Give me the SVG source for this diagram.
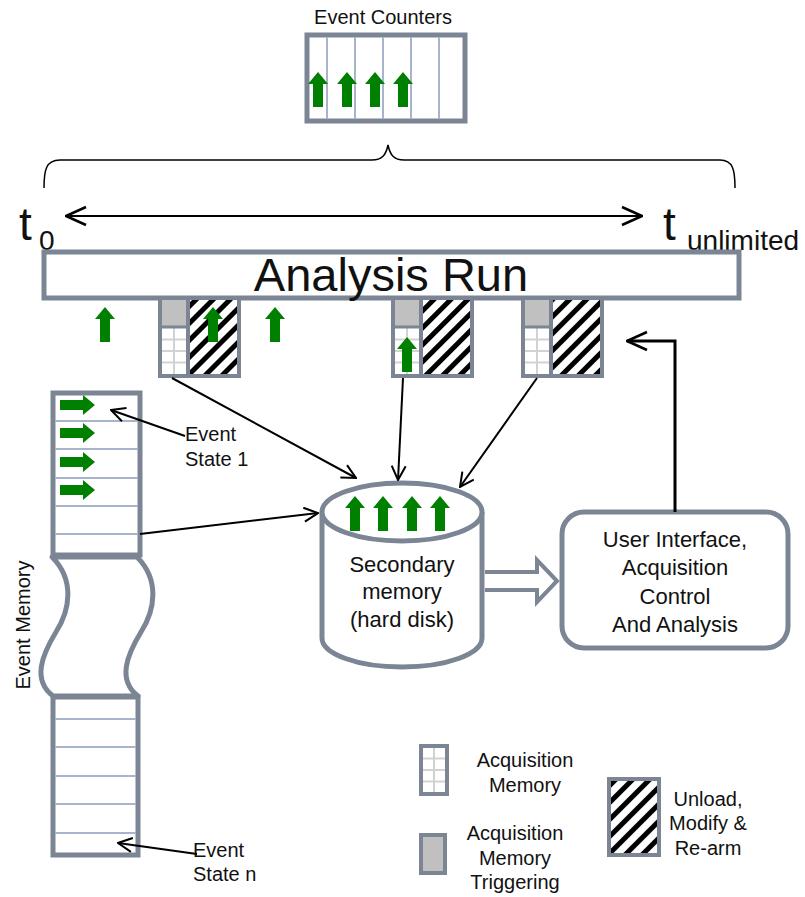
<svg xmlns="http://www.w3.org/2000/svg" xmlns:xlink="http://www.w3.org/1999/xlink" width="805" height="897" viewBox="0 0 805 897">
<defs>
<style>
.box{fill:#fff;stroke:#7b8594;stroke-width:5}
.gs{stroke:#7b8594;stroke-width:4}
.div{stroke:#a6b4cc;stroke-width:2;fill:none}
.grid{stroke:#d2d2d2;stroke-width:2;fill:none}
.trig{fill:#c0c0c0}
.con{fill:none;stroke:#000;stroke-width:2}
.t{font-family:"Liberation Sans",Arial,sans-serif;fill:#111}
.c{text-anchor:middle}
</style>
<pattern id="hatch" patternUnits="userSpaceOnUse" width="12" height="12" patternTransform="rotate(45)">
<rect width="12" height="12" fill="#fff"/>
<rect x="0" y="0" width="5" height="12" fill="#000"/>
</pattern>
<path id="gup" d="M0,0 L10,12 L5,12 L5,35 L-5,35 L-5,12 L-10,12 Z" fill="#008000"/>
<marker id="ah" viewBox="0 0 16 16" refX="15" refY="8" markerWidth="16" markerHeight="16" markerUnits="userSpaceOnUse" orient="auto-start-reverse">
<path d="M1,1 L15,8 L1,15" fill="none" stroke="#000" stroke-width="2"/>
</marker>
<marker id="ahb" viewBox="0 0 22 22" refX="21" refY="11" markerWidth="22" markerHeight="22" markerUnits="userSpaceOnUse" orient="auto-start-reverse">
<path d="M1,2 L21,11 L1,20" fill="none" stroke="#000" stroke-width="2.5"/>
</marker>
<g id="grid2x4">
<line class="grid" x1="12" y1="0" x2="12" y2="46"/>
<line class="grid" x1="0" y1="11.5" x2="24" y2="11.5"/>
<line class="grid" x1="0" y1="23" x2="24" y2="23"/>
<line class="grid" x1="0" y1="34.5" x2="24" y2="34.5"/>
</g>
</defs>

<g id="event-counters">
<text class="t c" x="383" y="24" font-size="20">Event Counters</text>
<rect class="box" x="307" y="35" width="158" height="86" stroke-width="4"/>
<line class="div" x1="327" y1="37" x2="327" y2="119"/>
<line class="div" x1="355" y1="37" x2="355" y2="119"/>
<line class="div" x1="383" y1="37" x2="383" y2="119"/>
<line class="div" x1="411" y1="37" x2="411" y2="119"/>
<line class="div" x1="439" y1="37" x2="439" y2="119"/>
<use xlink:href="#gup" transform="translate(318,72)"/>
<use xlink:href="#gup" transform="translate(347,72)"/>
<use xlink:href="#gup" transform="translate(375,72)"/>
<use xlink:href="#gup" transform="translate(403,72)"/>
</g>

<g id="brace">
<path d="M44,188 C44,170 46,160 60,160 L372,160 C382,160 386,155 388,145 C390,155 394,160 404,160 L720,160 C733,160 735,170 735,188" fill="none" stroke="#000" stroke-width="1.5"/>
</g>

<g id="time-labels">
<text class="t" x="19" y="240" font-size="46">t</text>
<text class="t" x="39" y="250" font-size="28">0</text>
<text class="t" x="663" y="240" font-size="46">t</text>
<text class="t" x="687" y="250" font-size="28">unlimited</text>
</g>

<g id="analysis-run">
<rect class="box" x="44" y="252" width="695" height="46"/>
<text class="t c" x="391" y="291" font-size="47">Analysis Run</text>
</g>

<g id="block1">
<rect class="gs" x="160" y="298" width="79" height="78" style="fill:#fff"/>
<rect class="trig" x="162" y="300" width="25" height="26"/>
<use xlink:href="#grid2x4" transform="translate(162,328)"/>
<line x1="160" y1="327" x2="188" y2="327" stroke="#7b8594" stroke-width="3"/>
<rect x="190" y="300" width="47" height="74" fill="url(#hatch)"/>
<line x1="188" y1="298" x2="188" y2="376" stroke="#7b8594" stroke-width="4"/>
<use xlink:href="#gup" transform="translate(213,307)"/>
</g>

<g id="block2">
<rect class="gs" x="393" y="298" width="79" height="78" style="fill:#fff"/>
<rect class="trig" x="395" y="300" width="25" height="26"/>
<use xlink:href="#grid2x4" transform="translate(395,328)"/>
<line x1="393" y1="327" x2="421" y2="327" stroke="#7b8594" stroke-width="3"/>
<rect x="423" y="300" width="47" height="74" fill="url(#hatch)"/>
<line x1="421" y1="298" x2="421" y2="376" stroke="#7b8594" stroke-width="4"/>
<use xlink:href="#gup" transform="translate(407,337)"/>
</g>

<g id="block3">
<rect class="gs" x="523" y="298" width="79" height="78" style="fill:#fff"/>
<rect class="trig" x="525" y="300" width="25" height="26"/>
<use xlink:href="#grid2x4" transform="translate(525,328)"/>
<line x1="523" y1="327" x2="551" y2="327" stroke="#7b8594" stroke-width="3"/>
<rect x="553" y="300" width="47" height="74" fill="url(#hatch)"/>
<line x1="551" y1="298" x2="551" y2="376" stroke="#7b8594" stroke-width="4"/>
</g>

<g id="bar-arrows">
<use xlink:href="#gup" transform="translate(105,307)"/>
<use xlink:href="#gup" transform="translate(275,307)"/>
</g>

<g id="event-memory">
<rect class="box" x="53" y="393" width="87" height="162"/>
<line class="div" x1="55" y1="421" x2="138" y2="421"/>
<line class="div" x1="55" y1="449" x2="138" y2="449"/>
<line class="div" x1="55" y1="478" x2="138" y2="478"/>
<line class="div" x1="55" y1="506" x2="138" y2="506"/>
<line class="div" x1="55" y1="534" x2="138" y2="534"/>
<use xlink:href="#gup" transform="translate(95,405) rotate(90)"/>
<use xlink:href="#gup" transform="translate(95,433) rotate(90)"/>
<use xlink:href="#gup" transform="translate(95,462) rotate(90)"/>
<use xlink:href="#gup" transform="translate(95,490) rotate(90)"/>
<path d="M52,557 C75,580 70,610 56,632 C42,655 32,680 53,696 L138,696 C117,680 127,655 141,632 C155,610 160,580 137,557 Z" fill="#fff" stroke="#7b8594" stroke-width="5" stroke-linejoin="round"/>
<rect class="box" x="53" y="697" width="85" height="158"/>
<line class="div" x1="55" y1="719" x2="136" y2="719"/>
<line class="div" x1="55" y1="747" x2="136" y2="747"/>
<line class="div" x1="55" y1="776" x2="136" y2="776"/>
<line class="div" x1="55" y1="804" x2="136" y2="804"/>
<line class="div" x1="55" y1="833" x2="136" y2="833"/>
<text class="t c" transform="translate(30,625) rotate(-90)" font-size="20">Event Memory</text>
</g>

<g id="secondary-memory">
<path d="M322,512 L322,638 A80,29 0 0 0 482,638 L482,512" class="box"/>
<ellipse class="box" cx="402" cy="512" rx="80" ry="29"/>
<use xlink:href="#gup" transform="translate(355,496)"/>
<use xlink:href="#gup" transform="translate(383,496)"/>
<use xlink:href="#gup" transform="translate(412,496)"/>
<use xlink:href="#gup" transform="translate(440,496)"/>
<text class="t c" x="402" y="572" font-size="22">Secondary</text>
<text class="t c" x="402" y="599" font-size="22">memory</text>
<text class="t c" x="402" y="627" font-size="22">(hard disk)</text>
</g>

<g id="user-interface">
<rect class="box" x="562" y="512" width="226" height="136" rx="22"/>
<text class="t c" x="675" y="547" font-size="22">User Interface,</text>
<text class="t c" x="675" y="575" font-size="22">Acquisition</text>
<text class="t c" x="675" y="604" font-size="22">Control</text>
<text class="t c" x="675" y="632" font-size="22">And Analysis</text>
</g>

<g id="labels">
<text class="t" x="185" y="441" font-size="20">Event</text>
<text class="t" x="185" y="466" font-size="20">State 1</text>
<text class="t" x="193" y="857" font-size="20">Event</text>
<text class="t" x="193" y="881" font-size="20">State n</text>
</g>

<g id="legend">
<rect class="gs" x="421" y="746" width="26" height="48" style="fill:#fff"/>
<use xlink:href="#grid2x4" transform="translate(422,747)"/>
<rect class="gs" x="421" y="746" width="26" height="48" style="fill:none"/>
<text class="t c" x="525" y="767" font-size="20">Acquisition</text>
<text class="t c" x="525" y="792" font-size="20">Memory</text>
<rect class="gs" x="421" y="835" width="24" height="38" style="fill:#c0c0c0"/>
<text class="t c" x="515" y="840" font-size="20">Acquisition</text>
<text class="t c" x="515" y="865" font-size="20">Memory</text>
<text class="t c" x="515" y="889" font-size="20">Triggering</text>
<rect class="gs" x="609" y="779" width="50" height="76" style="fill:url(#hatch)"/>
<text class="t c" x="708" y="806" font-size="20">Unload,</text>
<text class="t c" x="708" y="830" font-size="20">Modify &amp;</text>
<text class="t c" x="708" y="855" font-size="20">Re-arm</text>
</g>

<g id="connectors">
<line class="con" x1="66" y1="216" x2="642" y2="216" marker-start="url(#ahb)" marker-end="url(#ahb)"/>
<line class="con" x1="172" y1="378" x2="356" y2="478" marker-end="url(#ah)"/>
<line class="con" x1="403" y1="378" x2="398" y2="480" marker-end="url(#ah)"/>
<line class="con" x1="537" y1="378" x2="460" y2="487" marker-end="url(#ah)"/>
<line class="con" x1="140" y1="534" x2="318" y2="513" marker-end="url(#ah)"/>
<line class="con" x1="185" y1="436" x2="111" y2="410" marker-end="url(#ah)"/>
<line class="con" x1="197" y1="854" x2="118" y2="843" marker-end="url(#ah)"/>
<path d="M675,512 L675,341 L627,341" fill="none" stroke="#000" stroke-width="3" marker-end="url(#ahb)"/>
<path d="M485,572 L537,572 L537,560 L557,581 L537,602 L537,590 L485,590" fill="#fff" stroke="#7b8594" stroke-width="4" stroke-linejoin="miter"/>
</g>
</svg>
